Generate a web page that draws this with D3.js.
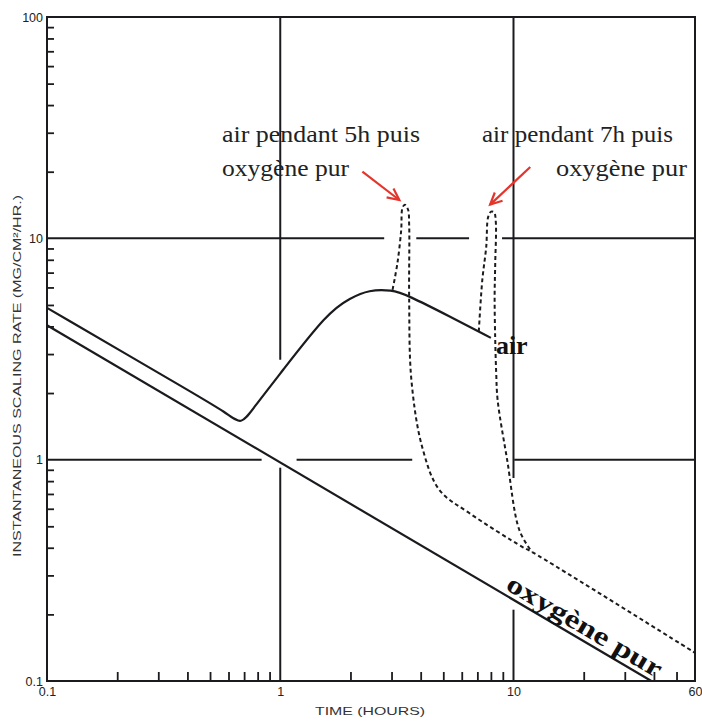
<!DOCTYPE html>
<html>
<head>
<meta charset="utf-8">
<script src="https://cdn.jsdelivr.net/npm/d3@7"></script>
<style>
  html, body { margin: 0; padding: 0; background: #fff; }
  svg { display: block; }
</style>
</head>
<body>
<svg id="chart" width="702" height="722"></svg>
<script>
// ---------------- DATA ----------------
const xTickLabels = [0.1, 1, 10, 60];
const yTickLabels = [0.1, 1, 10, 100];
const xMinorTicks = [0.2,0.3,0.4,0.5,0.6,0.7,0.8,0.9, 2,3,4,5,6,7,8,9, 20,30,40,50];
const yMinorTicks = [0.2,0.3,0.4,0.5,0.6,0.7,0.8,0.9, 2,3,4,5,6,7,8,9, 20,30,40,50,60,70,80,90];

// "oxygène pur" (pure oxygen) solid line
const oxyX = [0.1, 39];
const oxyY = [4.05, 0.1];

// "air" solid curve
const airX = [0.1, 0.4, 0.6, 0.68, 0.76, 1.0, 1.6, 2.0, 2.4, 3.0, 3.5, 5.3, 8.0];
const airY = [4.85, 2.07, 1.61, 1.43, 1.69, 2.45, 4.64, 5.38, 5.85, 5.85, 5.55, 4.45, 3.55];

// air 5h then pure oxygen (dashed)
const h5X = [3.03, 3.18, 3.30, 3.34, 3.42, 3.53, 3.57, 3.57, 3.65, 4.06, 4.81, 6.46, 10.9, 12.0, 60];
const h5Y = [5.85, 7.74, 10.9, 13.7, 14.2, 13.5, 11.5, 5.27, 2.29, 1.14, 0.73, 0.574, 0.404, 0.383, 0.134];

// air 7h then pure oxygen (dashed)
const h7X = [7.1, 7.35, 7.64, 7.79, 8.02, 8.26, 8.4, 8.35, 8.3, 8.35, 8.43, 8.55, 9.39, 10.6, 12.0];
const h7Y = [3.8, 6.49, 9.15, 12.5, 13.2, 13.1, 11.8, 7.74, 5.43, 3.47, 2.47, 1.86, 1.0, 0.48, 0.383];

// major grid lines (partially erased in the original), data coordinates
const gridV = [ {x: 1, from: 2.83, to: 100}, {x: 1, from: 0.1, to: 0.92},
                {x: 10, from: 0.826, to: 100}, {x: 10, from: 0.1, to: 0.21} ];
const gridH = [ {y: 10, from: 0.1, to: 2.79}, {y: 10, from: 3.83, to: 6.45}, {y: 10, from: 8.93, to: 60},
                {y: 1, from: 0.1, to: 0.832}, {y: 1, from: 1.175, to: 3.68}, {y: 1, from: 10.07, to: 60} ];

// arrows: from [x,y] to [x,y] in data units
const arrows = [ {from: [2.25, 20.0], to: [3.24, 14.9]},
                 {from: [11.8, 21.0], to: [7.94, 14.2]} ];

const xTitle = "TIME (HOURS)";
const yTitle = "INSTANTANEOUS SCALING RATE (MG/CM²/HR.)";

// ---------------- DRAW ----------------
const svg = d3.select("#chart");
const x = d3.scaleLog().domain([0.1, 60]).range([47, 695]);
const y = d3.scaleLog().domain([0.1, 100]).range([681, 17]);
const ink = "#1b1b1f";

// grid
svg.append("g").selectAll("line").data(gridV).join("line")
  .attr("x1", d => x(d.x)).attr("x2", d => x(d.x))
  .attr("y1", d => y(d.from)).attr("y2", d => y(d.to))
  .attr("stroke", ink).attr("stroke-width", 2);
svg.append("g").selectAll("line").data(gridH).join("line")
  .attr("y1", d => y(d.y)).attr("y2", d => y(d.y))
  .attr("x1", d => x(d.from)).attr("x2", d => x(d.to))
  .attr("stroke", ink).attr("stroke-width", 2);

// minor ticks via axes (inward)
const bottomMinor = svg.append("g").attr("transform", `translate(0,${y(0.1)})`)
  .call(d3.axisBottom(x).tickValues(xMinorTicks).tickSize(-9).tickFormat(""));
const leftMinor = svg.append("g").attr("transform", `translate(${x(0.1)},0)`)
  .call(d3.axisLeft(y).tickValues(yMinorTicks).tickSize(-7).tickFormat(""));
[bottomMinor, leftMinor].forEach(g => {
  g.select(".domain").remove();
  g.selectAll("line").attr("stroke", ink).attr("stroke-width", 1.8);
});

// frame
svg.append("rect")
  .attr("x", x(0.1)).attr("y", y(100))
  .attr("width", x(60) - x(0.1)).attr("height", y(0.1) - y(100))
  .attr("fill", "none").attr("stroke", ink).attr("stroke-width", 2);

// tick labels
const lblFont = "'Liberation Sans', Arial, sans-serif";
const bottomLbl = svg.append("g").attr("transform", `translate(0,${y(0.1)})`)
  .call(d3.axisBottom(x).tickValues(xTickLabels).tickSize(0).tickPadding(6)
    .tickFormat(d => d < 1 ? "0.1" : String(d)));
const leftLbl = svg.append("g").attr("transform", `translate(${x(0.1)},0)`)
  .call(d3.axisLeft(y).tickValues(yTickLabels).tickSize(0).tickPadding(4)
    .tickFormat(d => d < 1 ? "0.1" : String(d)));
[bottomLbl, leftLbl].forEach(g => {
  g.select(".domain").remove();
  g.selectAll("text").attr("font-family", lblFont).attr("font-size", 12.5)
    .attr("fill", "#222");
});

// axis titles
svg.append("text")
  .attr("x", 370).attr("y", 715)
  .attr("text-anchor", "middle")
  .attr("font-family", lblFont).attr("font-size", 10.5).attr("fill", "#333")
  .attr("textLength", 110).attr("lengthAdjust", "spacingAndGlyphs")
  .text(xTitle);
svg.append("text")
  .attr("transform", "translate(21,376) rotate(-90)")
  .attr("text-anchor", "middle")
  .attr("font-family", lblFont).attr("font-size", 10.5).attr("fill", "#333")
  .attr("textLength", 362).attr("lengthAdjust", "spacingAndGlyphs")
  .text(yTitle);

// curves
const line = d3.line().x(d => x(d[0])).y(d => y(d[1]));
const basis = d3.line().x(d => x(d[0])).y(d => y(d[1])).curve(d3.curveBasis);
const smooth = d3.line().x(d => x(d[0])).y(d => y(d[1])).curve(d3.curveCatmullRom.alpha(0.5));
const zip = (a, b) => a.map((v, i) => [v, b[i]]);

svg.append("path").attr("d", line(zip(oxyX, oxyY)))
  .attr("fill", "none").attr("stroke", ink).attr("stroke-width", 2.2);
svg.append("path").attr("d", basis(zip(airX, airY)))
  .attr("fill", "none").attr("stroke", ink).attr("stroke-width", 2.2);
svg.append("path").attr("d", smooth(zip(h5X, h5Y)))
  .attr("fill", "none").attr("stroke", ink).attr("stroke-width", 2)
  .attr("stroke-dasharray", "4,3");
svg.append("path").attr("d", smooth(zip(h7X, h7Y)))
  .attr("fill", "none").attr("stroke", ink).attr("stroke-width", 2)
  .attr("stroke-dasharray", "4,3");

// annotations
const serif = "'Liberation Serif', 'Times New Roman', serif";
const ann = [
  {t: "air pendant 5h puis", x: 222, y: 142, w: 198},
  {t: "oxygène pur", x: 222, y: 176, w: 127},
  {t: "air pendant 7h puis", x: 482, y: 142, w: 191},
  {t: "oxygène pur", x: 556, y: 176, w: 131}
];
svg.append("g").selectAll("text").data(ann).join("text")
  .attr("x", d => d.x).attr("y", d => d.y)
  .attr("font-family", serif).attr("font-size", 23).attr("fill", "#222")
  .attr("textLength", d => d.w).attr("lengthAdjust", "spacingAndGlyphs")
  .text(d => d.t);

// red arrows
const red = "#e5342b";
arrows.forEach(a => {
  const x1 = x(a.from[0]), y1 = y(a.from[1]), x2 = x(a.to[0]), y2 = y(a.to[1]);
  const ang = Math.atan2(y2 - y1, x2 - x1);
  svg.append("line").attr("x1", x1).attr("y1", y1).attr("x2", x2).attr("y2", y2)
    .attr("stroke", red).attr("stroke-width", 2.2);
  const L = 13, spread = 0.45;
  const p1 = [x2 - L * Math.cos(ang - spread), y2 - L * Math.sin(ang - spread)];
  const p2 = [x2 - L * Math.cos(ang + spread), y2 - L * Math.sin(ang + spread)];
  svg.append("path").attr("d", `M${p1}L${x2},${y2}L${p2}`)
    .attr("fill", "none").attr("stroke", red).attr("stroke-width", 2.2)
    .attr("stroke-linejoin", "miter");
});

// "air" label at end of air curve
svg.append("text")
  .attr("x", x(airX[airX.length - 1]) + 5).attr("y", y(airY[airY.length - 1]) + 16)
  .attr("font-family", serif).attr("font-weight", "bold").attr("font-size", 26)
  .attr("fill", "#111").text("air");

// "oxygène pur" label along the oxygen line
const lx = 8.93;
const t = (Math.log10(lx) - Math.log10(oxyX[0])) / (Math.log10(oxyX[1]) - Math.log10(oxyX[0]));
const ly = Math.pow(10, Math.log10(oxyY[0]) + t * (Math.log10(oxyY[1]) - Math.log10(oxyY[0])));
const angDeg = Math.atan2(y(oxyY[1]) - y(oxyY[0]), x(oxyX[1]) - x(oxyX[0])) * 180 / Math.PI;
svg.append("text")
  .attr("transform", `translate(${x(lx)},${y(ly)}) rotate(${angDeg})`)
  .attr("y", -5)
  .attr("font-family", serif).attr("font-weight", "bold").attr("font-size", 26)
  .attr("fill", "#111")
  .attr("textLength", 176).attr("lengthAdjust", "spacingAndGlyphs")
  .text("oxygène pur");
</script>
</body>
</html>
